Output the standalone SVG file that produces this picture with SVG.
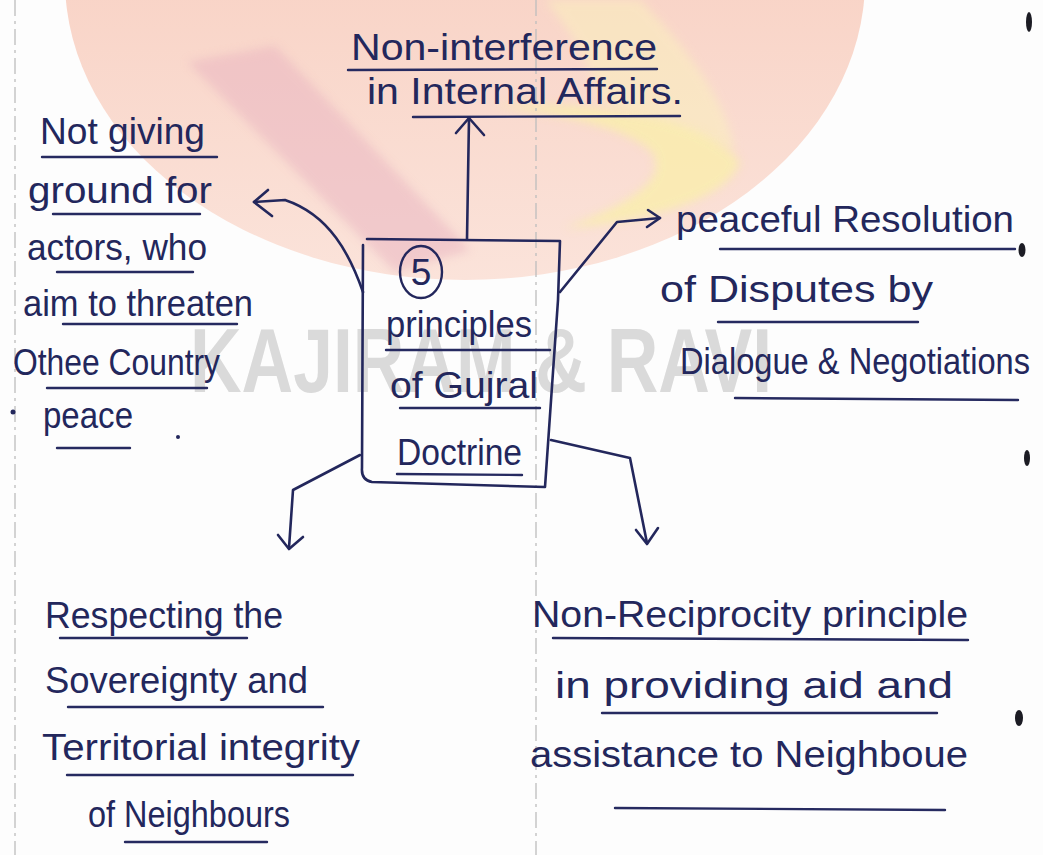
<svg xmlns="http://www.w3.org/2000/svg" width="1043" height="855" viewBox="0 0 1043 855">
  <defs>
    <style>
      .ink{font-family:"Liberation Sans",Arial,sans-serif;font-size:37px;fill:#23275c}
      .ul{stroke:#262a60;stroke-width:2.4;fill:none;stroke-linecap:round}
      .wire{stroke:#23275c;stroke-width:2.6;fill:none;stroke-linecap:round;stroke-linejoin:round}
      .rule{stroke:#bdbdbd;stroke-width:1.3;stroke-dasharray:16 5 3 5;fill:none}
      .speck{fill:#1c1c24}
    </style>
    <linearGradient id="logoFill" x1="0" y1="0" x2="0" y2="1">
      <stop offset="0" stop-color="#f6c4b3"/>
      <stop offset="1" stop-color="#fbe3da"/>
    </linearGradient>
    <clipPath id="logoClip">
      <ellipse cx="465" cy="-20" rx="400" ry="300"/>
    </clipPath>
    <filter id="soft" x="-20%" y="-20%" width="140%" height="140%">
      <feGaussianBlur stdDeviation="5"/>
    </filter>
  </defs>

  <!-- paper -->
  <rect width="1043" height="855" fill="#fdfdfd"/>

  <!-- faint logo watermark behind the notes -->
  <g id="watermark">
    <ellipse cx="465" cy="-20" rx="400" ry="300" fill="url(#logoFill)"/>
    <g clip-path="url(#logoClip)">
      <path d="M188,62 L275,46 L470,250 L395,272 Z" fill="#e8b2c0" opacity="0.5" filter="url(#soft)"/>
      <path d="M545,0 L640,0 C690,50 725,100 735,150 C690,140 640,120 600,100 C590,60 570,30 545,0 Z" fill="#faf0bd" opacity="0.55" filter="url(#soft)"/>
      <path d="M490,105 C600,100 710,120 740,162 C728,200 645,222 565,228 C640,200 670,175 650,150 C620,125 560,115 490,105 Z" fill="#f9edae" opacity="0.85" filter="url(#soft)"/>
    </g>
    <text x="190" y="392" font-family="'Liberation Sans',Arial,sans-serif" font-weight="bold" font-size="90" fill="#cdcdcd" opacity="0.72" textLength="582" lengthAdjust="spacingAndGlyphs">KAJIRAM &amp; RAVI</text>
  </g>

  <!-- page rules -->
  <path class="rule" d="M15,0 V855"/>
  <path class="rule" d="M536,0 V855"/>

  <!-- binding marks on the right edge -->
  <g id="marks">
    <ellipse class="speck" cx="1029" cy="22" rx="3" ry="10"/>
    <ellipse class="speck" cx="1022" cy="250" rx="3.5" ry="7"/>
    <ellipse class="speck" cx="1027" cy="458" rx="3" ry="8"/>
    <ellipse class="speck" cx="1019" cy="718" rx="4" ry="8"/>
  </g>

  <!-- centre: the doctrine -->
  <g id="node-doctrine">
    <path class="wire" d="M367,239 L560,241 L558,300 L545,487 L372,482 Q361,480 362,468 L363,245"/>
    <ellipse cx="421" cy="272" rx="21" ry="26" fill="none" stroke="#23275c" stroke-width="2.4"/>
    <text class="ink" x="421" y="285" text-anchor="middle" font-size="34">5</text>
    <text class="ink" x="386" y="337" textLength="146" lengthAdjust="spacingAndGlyphs">principles</text>
    <path class="ul" d="M386,350 L550,350"/>
    <text class="ink" x="390" y="398" textLength="148" lengthAdjust="spacingAndGlyphs">of Gujral</text>
    <path class="ul" d="M400,408 L540,408"/>
    <text class="ink" x="397" y="465" textLength="125" lengthAdjust="spacingAndGlyphs">Doctrine</text>
    <path class="ul" d="M397,474 L522,475"/>
  </g>

  <!-- top -->
  <g id="node-noninterference">
    <text class="ink" x="351" y="60" textLength="306" lengthAdjust="spacingAndGlyphs">Non-interference</text>
    <path class="ul" d="M348,70 L657,69"/>
    <text class="ink" x="367" y="104" textLength="316" lengthAdjust="spacingAndGlyphs">in Internal Affairs.</text>
    <path class="ul" d="M413,117 L680,116"/>
  </g>

  <!-- upper left -->
  <g id="node-ground">
    <text class="ink" x="40" y="144" textLength="165" lengthAdjust="spacingAndGlyphs">Not giving</text>
    <path class="ul" d="M42,157 L217,157"/>
    <text class="ink" x="28" y="203" textLength="184" lengthAdjust="spacingAndGlyphs">ground for</text>
    <path class="ul" d="M53,214 L200,214"/>
    <text class="ink" x="27" y="260" textLength="180" lengthAdjust="spacingAndGlyphs">actors, who</text>
    <path class="ul" d="M57,272 L193,272"/>
    <text class="ink" x="23" y="316" textLength="230" lengthAdjust="spacingAndGlyphs">aim to threaten</text>
    <path class="ul" d="M63,324 L237,324"/>
    <text class="ink" x="13" y="375" font-size="35" textLength="207" lengthAdjust="spacingAndGlyphs">Othee Country</text>
    <path class="ul" d="M47,388 L207,388"/>
    <circle cx="13" cy="412" r="2.5" fill="#23275c"/>
    <text class="ink" x="43" y="428" textLength="90" lengthAdjust="spacingAndGlyphs">peace</text>
    <path class="ul" d="M57,448 L130,448"/>
    <circle cx="178" cy="437" r="2" fill="#23275c"/>
  </g>

  <!-- upper right -->
  <g id="node-peaceful">
    <text class="ink" x="676" y="232" textLength="338" lengthAdjust="spacingAndGlyphs">peaceful Resolution</text>
    <path class="ul" d="M720,249 L1015,249"/>
    <text class="ink" x="660" y="302" textLength="273" lengthAdjust="spacingAndGlyphs">of Disputes by</text>
    <path class="ul" d="M718,322 L918,322"/>
    <text class="ink" x="680" y="374" font-size="33" textLength="350" lengthAdjust="spacingAndGlyphs">Dialogue &amp; Negotiations</text>
    <path class="ul" d="M735,398 L1018,400"/>
  </g>

  <!-- lower left -->
  <g id="node-sovereignty">
    <text class="ink" x="45" y="628" textLength="238" lengthAdjust="spacingAndGlyphs">Respecting the</text>
    <path class="ul" d="M60,638 L247,638"/>
    <text class="ink" x="45" y="693" textLength="263" lengthAdjust="spacingAndGlyphs">Sovereignty and</text>
    <path class="ul" d="M68,707 L323,707"/>
    <text class="ink" x="42" y="760" textLength="318" lengthAdjust="spacingAndGlyphs">Territorial integrity</text>
    <path class="ul" d="M67,775 L353,775"/>
    <text class="ink" x="88" y="827" textLength="202" lengthAdjust="spacingAndGlyphs">of Neighbours</text>
    <path class="ul" d="M125,842 L267,842"/>
  </g>

  <!-- lower right -->
  <g id="node-reciprocity">
    <text class="ink" x="532" y="627" textLength="436" lengthAdjust="spacingAndGlyphs">Non-Reciprocity principle</text>
    <path class="ul" d="M553,638 L968,640"/>
    <text class="ink" x="555" y="698" textLength="398" lengthAdjust="spacingAndGlyphs">in providing aid and</text>
    <path class="ul" d="M602,713 L937,713"/>
    <text class="ink" x="530" y="767" textLength="438" lengthAdjust="spacingAndGlyphs">assistance to Neighboue</text>
    <path class="ul" d="M615,808 L945,810"/>
  </g>

  <!-- arrows from the doctrine box -->
  <g id="connectors" class="wire">
    <path d="M467,239 L469,118"/>
    <path d="M456,133 L469,118 L484,135"/>
    <path d="M363,292 C350,255 330,215 285,200 L254,202"/>
    <path d="M268,190 L254,202 L272,216"/>
    <path d="M560,292 L617,222 L660,218"/>
    <path d="M648,210 L660,218 L647,227"/>
    <path d="M360,455 L293,490 L289,548"/>
    <path d="M278,535 L289,549 L303,537"/>
    <path d="M551,440 L630,458 L647,543"/>
    <path d="M636,530 L647,544 L658,528"/>
  </g>
</svg>
